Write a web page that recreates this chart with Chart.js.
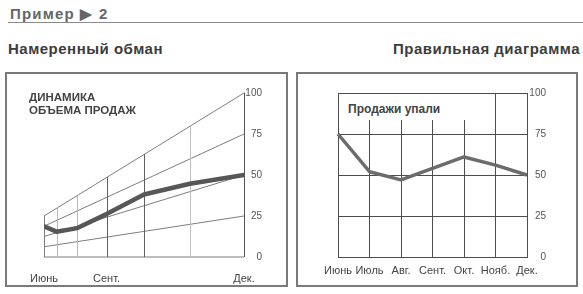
<!DOCTYPE html>
<html>
<head>
<meta charset="utf-8">
<script src="https://cdn.jsdelivr.net/npm/chart.js@4/dist/chart.umd.min.js"></script>
<style>
  body { margin: 0; width: 583px; height: 294px; background: #fff; position: relative; overflow: hidden;
         font-family: "Liberation Sans", Arial, sans-serif; }
  .abs { position: absolute; white-space: nowrap; }
  #hdr { left: 10px; top: 6px; font-size: 15px; font-weight: bold; color: #666; line-height: 16px; letter-spacing: 1.2px; }
  #rule { left: 8px; top: 22px; width: 575px; border-top: 1px solid #8a8a8a; }
  .sub { top: 41px; font-size: 15px; font-weight: bold; color: #3c3c3c; line-height: 16px; letter-spacing: 0.5px; }
  .box { border: 2px solid #7a7a7a; box-sizing: border-box; }
  canvas { position: absolute; }
  .note { font-weight: bold; color: #444; }
</style>
</head>
<body>
<div class="abs" id="hdr">Пример ▶ 2</div>
<div class="abs" id="rule"></div>
<div class="abs sub" style="left:8px">Намеренный обман</div>
<div class="abs sub" style="right:3px">Правильная диаграмма</div>

<div class="abs box" style="left:5px;top:72px;width:283px;height:215px"></div>
<div class="abs box" style="left:296px;top:72px;width:282px;height:215px"></div>

<canvas id="left" width="279" height="211" style="left:7px;top:74px"></canvas>
<canvas id="right" width="278" height="211" style="left:298px;top:74px"></canvas>

<div class="abs note" style="left:29px;top:91px;font-size:11.5px;line-height:13px">ДИНАМИКА<br>ОБЪЕМА ПРОДАЖ</div>
<div class="abs note" style="left:339px;top:94px;width:141px;height:18px;padding:8px 0 0 9px;background:#fff;font-size:12px;line-height:14px">Продажи упали</div>

<script>
// ─── DATA ─────────────────────────────────────────────────────
const months = ['Июнь', 'Июль', 'Авг.', 'Сент.', 'Окт.', 'Нояб.', 'Дек.'];
const sales = [75, 52, 47, 54, 61, 56, 50];
const yTicks = [0, 25, 50, 75, 100];
const leftXTicks = ['Июнь', '', '', 'Сент.', '', '', 'Дек.'];

Chart.defaults.font.family = '"Liberation Sans", Arial, sans-serif';

// ─── PERSPECTIVE (the "deceptive" chart) ──────────────────────
const WARP = 0.25; // near side is a quarter of the far side

// x scale that squeezes the early months together
class PerspectiveScale extends Chart.LinearScale {
  static id = 'perspective';
  getPixelForDecimal(d) {
    return super.getPixelForDecimal(WARP * d + (1 - WARP) * d * d);
  }
}
Chart.register(PerspectiveScale);

// values lean down toward the left edge
function lean(a, px, py) {
  const u = (px - a.left) / a.width;
  return a.bottom - (a.bottom - py) * (WARP + (1 - WARP) * u);
}

const skew = {
  id: 'skew',
  afterDatasetsUpdate(chart) {
    const a = chart.chartArea;
    chart.getDatasetMeta(0).data.forEach(p => { p.y = lean(a, p.x, p.y); });
  },
  beforeDatasetsDraw(chart, args, opts) {
    const { ctx, chartArea: a, scales: { x, y } } = chart;
    ctx.save();
    ctx.lineWidth = 1;
    y.ticks.forEach(t => {
      const py = y.getPixelForValue(t.value);
      ctx.strokeStyle = opts.rowColor;
      ctx.beginPath();
      ctx.moveTo(a.left, lean(a, a.left, py));
      ctx.lineTo(a.right, py);
      ctx.stroke();
    });
    const top = y.getPixelForValue(y.max);
    x.ticks.forEach((t, i) => {
      const px = Math.round(x.getPixelForValue(t.value)) + 0.5;
      ctx.strokeStyle = opts.colColors[i];
      ctx.beginPath();
      ctx.moveTo(px, a.bottom);
      ctx.lineTo(px, lean(a, px, top));
      ctx.stroke();
    });
    ctx.restore();
  }
};

new Chart(document.getElementById('left'), {
  type: 'line',
  data: {
    datasets: [{
      data: sales.map((v, i) => ({ x: i, y: v })),
      borderColor: '#575757', borderWidth: 4.5, pointRadius: 0, tension: 0,
      borderJoinStyle: 'round', borderCapStyle: 'round'
    }]
  },
  options: {
    responsive: false, animation: false, events: [],
    layout: { padding: { left: 37, top: 19, right: 24, bottom: 0 } },
    plugins: {
      legend: { display: false }, tooltip: { enabled: false },
      skew: { rowColor: '#7d7d7d', colColors: ['#7d7d7d', '#b8b8b8', '#b8b8b8', '#606060', '#606060', '#c0c0c0', '#555'] }
    },
    scales: {
      x: {
        type: 'perspective', min: 0, max: months.length - 1,
        grid: { display: false }, border: { display: false },
        afterBuildTicks: s => { s.ticks = months.map((_, i) => ({ value: i })); },
        afterFit: s => { s.height = 28; },
        ticks: { autoSkip: false, maxRotation: 0, padding: 7, color: '#444', font: { size: 11 },
                 callback: (v, i) => leftXTicks[i] }
      },
      y: {
        position: 'right', min: 0, max: 100,
        grid: { display: false }, border: { display: false },
        afterBuildTicks: s => { s.ticks = yTicks.map(v => ({ value: v })); },
        afterFit: s => { s.width = 18; },
        ticks: { padding: 1, crossAlign: 'far', color: '#555', font: { size: 10 } }
      }
    }
  },
  plugins: [skew]
});

// ─── CORRECT CHART ────────────────────────────────────────────
new Chart(document.getElementById('right'), {
  type: 'line',
  data: {
    labels: months,
    datasets: [{
      data: sales, borderColor: '#6c6c6c', borderWidth: 3.5, pointRadius: 0, tension: 0,
      borderJoinStyle: 'round'
    }]
  },
  options: {
    responsive: false, animation: false, events: [],
    layout: { padding: { left: 40, top: 19, right: 30, bottom: 0 } },
    plugins: { legend: { display: false }, tooltip: { enabled: false } },
    scales: {
      x: {
        grid: { color: '#4d4d4d', drawTicks: false }, border: { color: '#4d4d4d' },
        afterFit: s => { s.height = 28; },
        ticks: { autoSkip: false, maxRotation: 0, padding: 7, color: '#444', font: { size: 11 } }
      },
      y: {
        position: 'right', min: 0, max: 100,
        grid: { color: '#4d4d4d', drawTicks: false }, border: { color: '#4d4d4d' },
        afterBuildTicks: s => { s.ticks = yTicks.map(v => ({ value: v })); },
        afterFit: s => { s.width = 19; },
        ticks: { padding: 2, crossAlign: 'far', color: '#555', font: { size: 10 } }
      }
    }
  }
});
</script>
</body>
</html>
